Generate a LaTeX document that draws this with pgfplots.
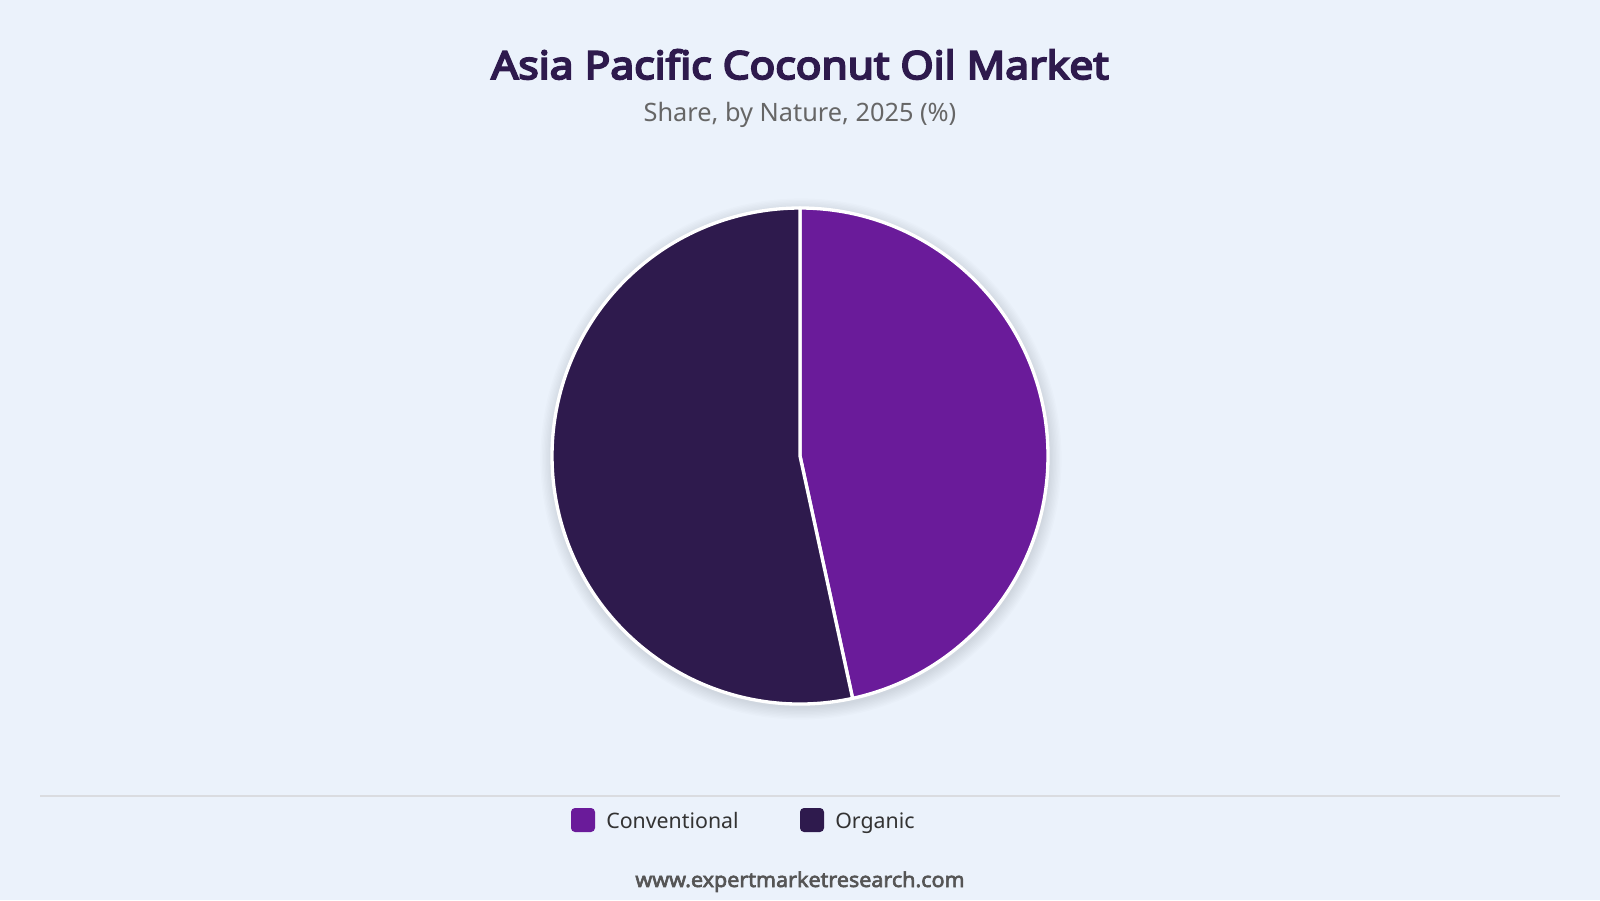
\documentclass[border=0pt]{standalone}
\usepackage{pgfplots}
\pgfplotsset{compat=1.18}
\usepackage{pgfplotstable}
\usepackage{fontspec}
\setmainfont{Noto Sans}
\newfontfamily\titlefont{Noto Sans}[FakeBold=5, FakeStretch=1.1]
\newfontfamily\footfont{Noto Sans}[FakeBold=3, FakeStretch=1.04]
\usetikzlibrary{calc}

\definecolor{bg}{HTML}{EBF2FB}
\definecolor{conv}{HTML}{6A1B9A}
\definecolor{org}{HTML}{2E1A4D}
\definecolor{titlec}{HTML}{2E1A4D}
\definecolor{subc}{HTML}{666666}
\definecolor{legc}{HTML}{333333}
\definecolor{footc}{HTML}{555555}
\definecolor{rulec}{HTML}{DADCE0}

% share by nature, 2025 (%)
\pgfplotstableread{
label value
Conventional 46.6
Organic 53.4
}\sharetable

\begin{document}
\begin{tikzpicture}
\pgfplotstablegetelem{0}{value}\of\sharetable \pgfmathsetmacro{\va}{\pgfplotsretval}
\pgfplotstablegetelem{1}{value}\of\sharetable \pgfmathsetmacro{\vb}{\pgfplotsretval}
\pgfmathsetmacro{\total}{\va+\vb}
\pgfmathsetmacro{\ea}{90-360*(\va/\total)}
\pgfmathsetmacro{\eb}{\ea-360*(\vb/\total)}
\begin{axis}[
    at={(0,0)}, anchor=south west,
    width=1200pt, height=675pt, scale only axis,
    xmin=0, xmax=1600, ymin=0, ymax=900, y dir=reverse,
    hide axis, clip=false,
]
% background
\fill[bg] (axis cs:0,0) rectangle (axis cs:1600,900);

% title block
\node[anchor=base, text=titlec, font=\titlefont\fontsize{29}{34}\selectfont]
    at (axis cs:800,79) {Asia Pacific Coconut Oil Market};
\node[anchor=base, text=subc, font=\fontsize{19}{23}\selectfont]
    at (axis cs:800,121) {Share, by Nature, 2025 (\%)};

% soft shadow round the pie
\pgfplotsinvokeforeach{1,...,9}{
    \fill[black, opacity=0.011] (axis cs:801,459) circle[radius={(186+1.05*#1)*1pt}];
}

% slices
\fill[conv, draw=white, line width=2.5pt, line join=round]
    let \p1=(axis cs:800,456), \p2=(axis cs:1048,456), \n1={veclen(\x2-\x1,\y2-\y1)} in
    (\p1) -- ++(90:\n1) arc[start angle=90, end angle=\ea, radius=\n1] -- cycle;
\fill[org, draw=white, line width=2.5pt, line join=round]
    let \p1=(axis cs:800,456), \p2=(axis cs:1048,456), \n1={veclen(\x2-\x1,\y2-\y1)} in
    (\p1) -- ++(\ea:\n1) arc[start angle=\ea, end angle=\eb, radius=\n1] -- cycle;

% rule above the legend
\addplot[rulec, line width=1.5pt] coordinates {(40,796) (1560,796)};

% legend
\fill[conv, rounded corners=3pt] (axis cs:571,808) rectangle (axis cs:595,832);
\node[anchor=base west, text=legc, font=\fontsize{16}{20}\selectfont, inner sep=0pt]
    at (axis cs:606,828) {Conventional};
\fill[org, rounded corners=3pt] (axis cs:800,808) rectangle (axis cs:824,832);
\node[anchor=base west, text=legc, font=\fontsize{16}{20}\selectfont, inner sep=0pt]
    at (axis cs:835,828) {Organic};

% source
\node[anchor=base, text=footc, font=\footfont\fontsize{15.5}{18}\selectfont]
    at (axis cs:800,887) {www.expertmarketresearch.com};
\end{axis}
\end{tikzpicture}
\end{document}
